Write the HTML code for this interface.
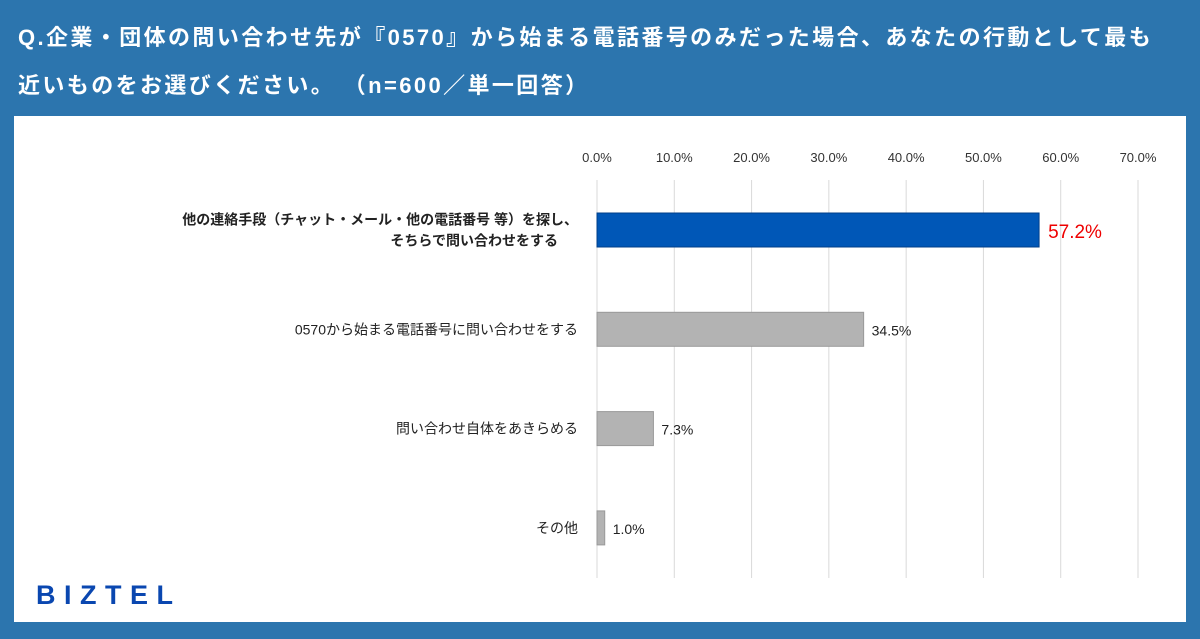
<!DOCTYPE html>
<html><head><meta charset="utf-8">
<style>
html,body{margin:0;padding:0}
body{width:1200px;height:639px;background:#2c75ae;position:relative;overflow:hidden;font-family:"Liberation Sans","Noto Sans CJK JP",sans-serif}
.title{position:absolute;left:18px;color:#fff;font-weight:bold;font-size:22px;white-space:nowrap;letter-spacing:2.4px}
#panel{position:absolute;left:14px;top:116px;width:1172px;height:506px;background:#fff}
#logo{position:absolute;left:36px;top:580px;color:#0a47b0;font-weight:bold;font-size:27px;letter-spacing:8.5px;font-family:"Liberation Sans",sans-serif}
svg{position:absolute;left:0;top:0}
</style></head><body>
<div class="title" style="top:20px">Q.企業・団体の問い合わせ先が『0570』から始まる電話番号のみだった場合、あなたの行動として最も</div>
<div class="title" style="top:68px">近いものをお選びください。 （n=600／単一回答）</div>
<div id="panel"></div>
<div id="logo">BIZTEL</div>
<svg id="chart" width="1200" height="639"></svg>
<script>
const categories=[["他の連絡手段（チャット・メール・他の電話番号 等）を探し、","そちらで問い合わせをする"],["0570から始まる電話番号に問い合わせをする"],["問い合わせ自体をあきらめる"],["その他"]];
const values=[57.2,34.5,7.3,1.0];
const ticks=[0,10,20,30,40,50,60,70];
const tickLabels=["0.0%","10.0%","20.0%","30.0%","40.0%","50.0%","60.0%","70.0%"];
const ns="http://www.w3.org/2000/svg";
const svg=document.getElementById('chart');
const x0=597,x1=1138,vmax=70;
const xs=v=>x0+(x1-x0)*v/vmax;
const yc=i=>230+i*99.3;
function mk(t,a){const e=document.createElementNS(ns,t);for(const k in a)e.setAttribute(k,a[k]);svg.appendChild(e);return e;}
ticks.forEach((t,i)=>{
 const g=mk('line',{x1:xs(t),x2:xs(t),y1:180,y2:578,stroke:'#d9d9d9','stroke-width':1});
 
 
 const tx=mk('text',{x:xs(t),y:162,'text-anchor':'middle','font-size':13,fill:'#333'});
 tx.textContent=tickLabels[i];
 
 
});
values.forEach((v,i)=>{
 const y=yc(i);
 const b=mk('rect',{x:x0,y:y-17,width:xs(v)-x0,height:34,fill:i==0?'#0057b7':'#b3b3b3',stroke:i==0?'#003f8a':'#999','stroke-width':1});
 
 
 const l=mk('text',{x:xs(v)+(i==0?9:8),y:y+(i==0?8:6),'font-size':i==0?19:14,fill:i==0?'#e00':'#222'});
 l.textContent=v.toFixed(1)+'%';
 
 
 const lines=categories[i];
 lines.forEach((s,j)=>{
  const c=mk('text',{x:i==0&&j==1?558:578,y:y+5+(j-(lines.length-1)/2)*21,'text-anchor':'end','font-size':14,fill:'#222','font-weight':i==0?'bold':'normal'});
  c.textContent=s;
  
  
 });
});
</script>
</body></html>
